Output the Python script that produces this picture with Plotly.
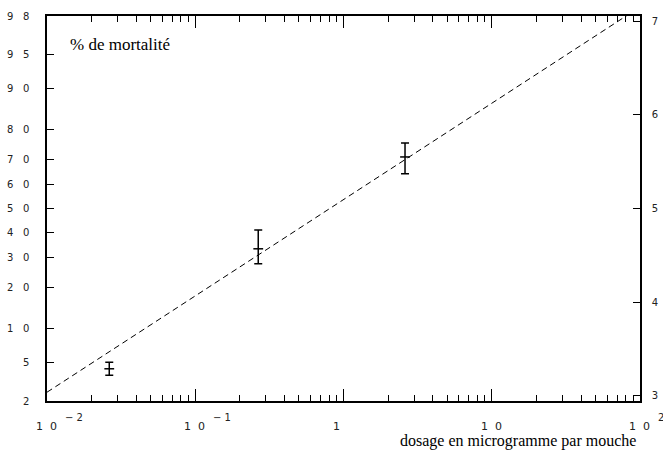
import math
from statistics import NormalDist
import plotly.graph_objects as go

# ---- data ----
dose = [0.0263, 0.266, 2.60]              # microgram per fly
probit_mid = [3.29, 4.57, 5.55]
probit_hi = [3.36, 4.77, 5.70]
probit_lo = [3.22, 4.41, 5.37]

fit_dose = [0.01, 100]
fit_probit = [3.04, 7.15]

pct_ticks = [2, 5, 10, 20, 30, 40, 50, 60, 70, 80, 90, 95, 98]
probit_ticks = [3, 4, 5, 6, 7]
x_decades = [0.01, 0.1, 1, 10, 100]
x_base = ["1\u00a0\u00a00", "1\u00a0\u00a00", "1", "1\u00a0\u00a00", "1\u00a0\u00a00"]
x_exp = ["\u2212\u00a02", "\u2212\u00a01", "", "", "2"]

nd = NormalDist()
pct_pos = [5 + nd.inv_cdf(p / 100) for p in pct_ticks]
pct_text = ["\u00a0\u00a0\u00a0".join(str(p)) for p in pct_ticks]
yr = [5 + nd.inv_cdf(0.02), 5 + nd.inv_cdf(0.98)]

minor_x = [m * d for d in x_decades[:-1] for m in range(2, 10)]

err_plus = [h - m for h, m in zip(probit_hi, probit_mid)]
err_minus = [m - l for m, l in zip(probit_mid, probit_lo)]

tickfont = dict(family="DejaVu Sans", size=10, color="#222")

fig = go.Figure()
fig.add_trace(go.Scatter(
    x=fit_dose, y=fit_probit, mode="lines",
    line=dict(color="black", width=1, dash="6px,4px"),
    showlegend=False, hoverinfo="skip"))
fig.add_trace(go.Scatter(
    x=dose, y=probit_mid, mode="markers",
    marker=dict(symbol="line-ew-open", size=7, color="black",
                line=dict(color="black", width=1.5)),
    error_y=dict(type="data", symmetric=False, array=err_plus,
                 arrayminus=err_minus, color="black", thickness=1.5, width=4),
    showlegend=False))
# invisible trace to carry the right-hand probit axis
fig.add_trace(go.Scatter(x=[1], y=[5], yaxis="y2", mode="markers",
                         marker=dict(opacity=0), showlegend=False,
                         hoverinfo="skip"))

fig.update_layout(
    width=663, height=456,
    margin=dict(l=47, r=23, t=16, b=55, autoexpand=False),
    paper_bgcolor="white", plot_bgcolor="white",
    xaxis=dict(type="log", range=[-2, 2], showgrid=False, zeroline=False,
               automargin=False,
               showline=True, linecolor="black", linewidth=1.5,
               mirror="ticks", ticks="inside", ticklen=12, tickwidth=1,
               tickcolor="black", tickvals=x_decades, showticklabels=False,
               minor=dict(tickvals=minor_x, ticks="inside", ticklen=6,
                          tickwidth=1, tickcolor="black", showgrid=False)),
    yaxis=dict(range=yr, showgrid=False, zeroline=False, showline=True,
               automargin=False,
               linecolor="black", linewidth=1.5, ticks="inside", ticklen=7,
               tickwidth=1, tickcolor="black", tickvals=pct_pos,
               ticktext=pct_text, tickfont=tickfont, ticklabelstandoff=14),
    yaxis2=dict(range=yr, overlaying="y", side="right", showgrid=False,
                automargin=False,
                zeroline=False, showline=True, linecolor="black",
                linewidth=1.5, ticks="inside", ticklen=7, tickwidth=1,
                tickcolor="black", tickvals=probit_ticks,
                ticktext=[str(v) for v in probit_ticks], tickfont=tickfont,
                ticklabelstandoff=8),
)

annotations = []
for v, b, e in zip(x_decades, x_base, x_exp):
    annotations.append(dict(x=math.log10(v), xref="x", y=0, yref="paper",
                            text=b, showarrow=False, xanchor="left",
                            yanchor="middle", xshift=-13, yshift=-25,
                            font=dict(family="DejaVu Sans", size=11,
                                      color="#222")))
    if e:
        annotations.append(dict(x=math.log10(v), xref="x", y=0,
                                yref="paper", text=e, showarrow=False,
                                xanchor="left", yanchor="middle", xshift=16,
                                yshift=-16,
                                font=dict(family="DejaVu Sans", size=10,
                                          color="#222")))
annotations.append(dict(x=0.035, xref="paper", y=1, yref="paper",
                        text="% de mortalité", showarrow=False,
                        xanchor="left", yanchor="middle", yshift=-28,
                        font=dict(family="Liberation Serif", size=17,
                                  color="black")))
annotations.append(dict(x=0.9966, xref="paper", y=0, yref="paper",
                        text="dosage en microgramme par mouche",
                        showarrow=False, xanchor="right", yanchor="middle",
                        yshift=-40,
                        font=dict(family="Liberation Serif", size=16,
                                  color="black")))
fig.update_layout(annotations=annotations)

# remove the browser's default 8px body margin so the figure fills the window
fig.write_html("out.html",
               config={"displayModeBar": False},
               post_script="document.body.style.margin='0px';")
